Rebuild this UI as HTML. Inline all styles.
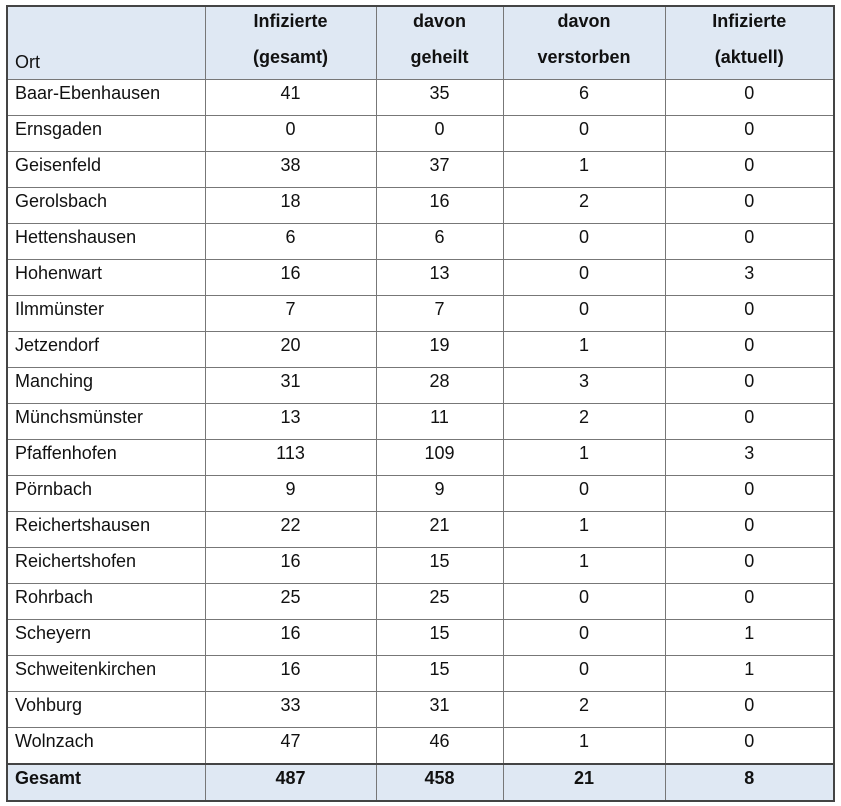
<!DOCTYPE html>
<html><head><meta charset="utf-8"><style>
body{margin:0;background:#fff;width:841px;height:806px;position:relative;font-family:"Liberation Sans",Arial,sans-serif;font-size:18px;color:#111}
table{position:absolute;left:6px;top:5px;border-collapse:collapse;table-layout:fixed;border:2px solid #444}
td{border:1px solid #777;height:35px;padding:0 8px;vertical-align:top;line-height:27px;text-align:center}
td:first-child{text-align:left;padding-left:7px}
tr.h td{background:#dfe8f3;font-weight:bold;height:71px;line-height:36px;padding-top:0}
tr.h td span{position:relative;top:-4px}
tr.h td:first-child{font-weight:normal;vertical-align:bottom}
tr.h td:first-child span{top:1px}
tr.t td{background:#dfe8f3;font-weight:bold;border-top:2px solid #444}
</style></head><body>
<table>
<colgroup><col style="width:198px"><col style="width:171px"><col style="width:127px"><col style="width:162px"><col style="width:169px"></colgroup>
<tr class="h"><td><span>Ort</span></td><td><span>Infizierte<br>(gesamt)</span></td><td><span>davon<br>geheilt</span></td><td><span>davon<br>verstorben</span></td><td><span>Infizierte<br>(aktuell)</span></td></tr>
<tr><td>Baar-Ebenhausen</td><td>41</td><td>35</td><td>6</td><td>0</td></tr>
<tr><td>Ernsgaden</td><td>0</td><td>0</td><td>0</td><td>0</td></tr>
<tr><td>Geisenfeld</td><td>38</td><td>37</td><td>1</td><td>0</td></tr>
<tr><td>Gerolsbach</td><td>18</td><td>16</td><td>2</td><td>0</td></tr>
<tr><td>Hettenshausen</td><td>6</td><td>6</td><td>0</td><td>0</td></tr>
<tr><td>Hohenwart</td><td>16</td><td>13</td><td>0</td><td>3</td></tr>
<tr><td>Ilmmünster</td><td>7</td><td>7</td><td>0</td><td>0</td></tr>
<tr><td>Jetzendorf</td><td>20</td><td>19</td><td>1</td><td>0</td></tr>
<tr><td>Manching</td><td>31</td><td>28</td><td>3</td><td>0</td></tr>
<tr><td>Münchsmünster</td><td>13</td><td>11</td><td>2</td><td>0</td></tr>
<tr><td>Pfaffenhofen</td><td>113</td><td>109</td><td>1</td><td>3</td></tr>
<tr><td>Pörnbach</td><td>9</td><td>9</td><td>0</td><td>0</td></tr>
<tr><td>Reichertshausen</td><td>22</td><td>21</td><td>1</td><td>0</td></tr>
<tr><td>Reichertshofen</td><td>16</td><td>15</td><td>1</td><td>0</td></tr>
<tr><td>Rohrbach</td><td>25</td><td>25</td><td>0</td><td>0</td></tr>
<tr><td>Scheyern</td><td>16</td><td>15</td><td>0</td><td>1</td></tr>
<tr><td>Schweitenkirchen</td><td>16</td><td>15</td><td>0</td><td>1</td></tr>
<tr><td>Vohburg</td><td>33</td><td>31</td><td>2</td><td>0</td></tr>
<tr><td>Wolnzach</td><td>47</td><td>46</td><td>1</td><td>0</td></tr>
<tr class="t"><td>Gesamt</td><td>487</td><td>458</td><td>21</td><td>8</td></tr>
</table>
</body></html>
